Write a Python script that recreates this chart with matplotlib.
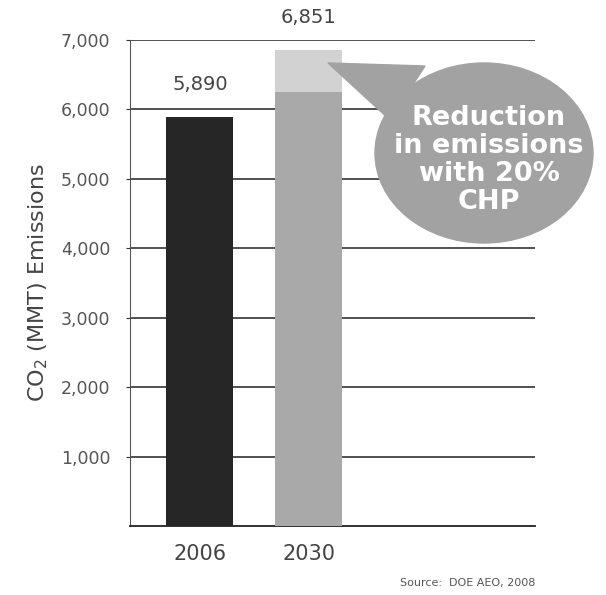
import matplotlib.pyplot as plt
from matplotlib.patches import Ellipse, Polygon

# CO2 emissions, million metric tons
years = ['2006', '2030']
totals = [5890, 6851]
base_2030 = 6250            # 2030 emissions after CHP savings
tick_vals = [1000, 2000, 3000, 4000, 5000, 6000, 7000]

plt.rcParams['font.family'] = 'DejaVu Sans'

fig = plt.figure(figsize=(6.06, 5.95), dpi=100)
ax = fig.add_axes([0.2145, 0.116, 0.668, 0.817])

x = [0, 1]
w = 0.615
ax.bar(x[0], totals[0], width=w, color='#262626', zorder=3)
ax.bar(x[1], base_2030, width=w, color='#a9a9a9', zorder=3)
ax.bar(x[1], totals[1] - base_2030, bottom=base_2030, width=w,
       color='#d2d2d2', zorder=3)

for xi, v in zip(x, totals):
    ax.text(xi, v + 330, f'{v:,}', ha='center', va='bottom',
            fontsize=14, color='#444444', clip_on=False)

ax.set_xlim(-0.64, 3.07)
ax.set_ylim(0, 7000)
ax.set_yticks(tick_vals)
ax.set_yticklabels([f'{t:,}' for t in tick_vals], fontsize=12.5, color='#555555')
ax.set_xticks(x)
ax.set_xticklabels(years, fontsize=15, color='#444444')
ax.tick_params(axis='x', length=0, pad=13)
ax.tick_params(axis='y', length=3, color='#333333', pad=11)
ax.yaxis.grid(True, color='#333333', linewidth=1.2, zorder=1)

for s in ['top', 'right']:
    ax.spines[s].set_visible(False)
ax.spines['left'].set_color('#555555')
ax.spines['bottom'].set_color('#222222')
ax.spines['bottom'].set_linewidth(1.3)

ax.set_ylabel('CO$_2$ (MMT) Emissions', fontsize=16, color='#444444',
              labelpad=8)

# speech bubble pointing at the lighter top part of the 2030 bar
bubble = '#a2a2a2'
tail = Polygon([(328 / 606, 1 - 63 / 595), (425 / 606, 1 - 66 / 595),
                (390 / 606, 1 - 120 / 595)], closed=True,
               transform=fig.transFigure, color=bubble, zorder=5)
fig.patches.append(tail)
ell = Ellipse((484 / 606, 1 - 153 / 595), 218 / 606, 180 / 595,
              transform=fig.transFigure, color=bubble, zorder=5)
fig.patches.append(ell)
fig.text(489 / 606, 1 - 160 / 595, 'Reduction\nin emissions\nwith 20%\nCHP',
         ha='center', va='center', fontsize=19.5, fontweight='bold',
         color='white', linespacing=1.1, zorder=6)

fig.text(535 / 606, 1 - 583 / 595, 'Source:  DOE AEO, 2008',
         ha='right', va='center', fontsize=8, color='#555555')

fig.savefig('out.png', dpi=100)
